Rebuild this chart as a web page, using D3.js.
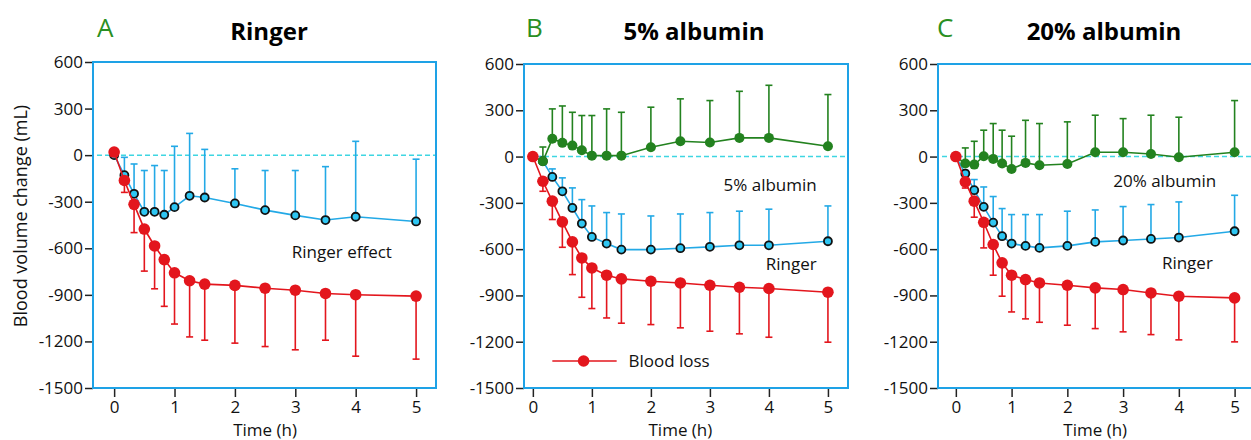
<!DOCTYPE html>
<html>
<head>
<meta charset="utf-8">
<script src="https://cdn.jsdelivr.net/npm/d3@7"></script>
<style>
body{margin:0;background:#fff;}
svg{display:block;}
</style>
</head>
<body>
<div id="chart"></div>
<script>
// time points (h) shared by all panels
const times = [0, 0.17, 0.33, 0.5, 0.67, 0.83, 1, 1.25, 1.5, 2, 2.5, 3, 3.5, 4, 5];
const yTicks = [600, 300, 0, -300, -600, -900, -1200, -1500];
const xTicks = [0, 1, 2, 3, 4, 5];
const panelLetters = ["A", "B", "C"];
const panelTitles = ["Ringer", "5% albumin", "20% albumin"];

// A - Ringer
const lossA    = [20, -163, -317, -476, -585, -673, -758, -809, -831, -839, -857, -870, -891, -899, -908];
const lossSdA  = [0, 77, 182, 271, 276, 301, 330, 362, 361, 372, 376, 384, 301, 396, 406];
const ringerA   = [0, -129, -249, -365, -365, -384, -335, -262, -273, -311, -354, -388, -418, -397, -427];
const ringerSdA = [0, 115, 192, 266, 298, 285, 392, 402, 310, 223, 255, 289, 344, 486, 401];

// B - 5% albumin
const lossB    = [0, -160, -289, -423, -553, -657, -722, -769, -793, -808, -819, -834, -847, -855, -879];
const lossSdB  = [0, 65, 119, 165, 212, 255, 263, 277, 287, 281, 291, 298, 302, 316, 324];
const ringerB   = [0, -30, -132, -225, -333, -434, -521, -564, -603, -603, -594, -585, -575, -575, -549];
const ringerSdB = [0, 30, 52, 87, 130, 155, 201, 201, 231, 218, 222, 222, 221, 234, 229];
const albB   = [0, -30, 115, 89, 71, 41, 6, 6, 6, 60, 99, 91, 121, 121, 67];
const albSdB = [0, 92, 194, 239, 216, 225, 260, 303, 281, 260, 275, 272, 302, 341, 335];

// C - 20% albumin
const lossC    = [0, -164, -289, -426, -570, -689, -769, -797, -819, -834, -851, -862, -884, -905, -916];
const lossSdC  = [0, 40, 104, 166, 199, 216, 238, 255, 255, 259, 264, 274, 270, 283, 285];
const ringerC   = [0, -110, -218, -326, -428, -516, -564, -579, -592, -579, -553, -544, -534, -525, -484];
const ringerSdC = [0, 20, 69, 129, 169, 179, 188, 203, 216, 225, 207, 220, 223, 231, 233];
const albC   = [0, -45, -52, 2, -15, -45, -80, -41, -56, -48, 28, 28, 17, -4, 28];
const albSdC = [0, 101, 151, 169, 229, 216, 212, 276, 270, 273, 240, 218, 251, 259, 335];

let w = 1251;
let h = 440;
let font = "'Open Sans', 'DejaVu Sans', sans-serif";

let red = "#e3161d";
let blue = "#23a9e6";
let blueFill = "#2ec6f2";
let green = "#23821f";
let boxColor = "#1ea2e6";

let viz = d3.select("#chart")
  .append("svg")
  .attr("width", w)
  .attr("height", h)
  .style("background-color", "white");

let panels = [
  {left: 93, right: 436, top: 62, bottom: 388, xDomain: [-0.35, 5.33], titleX: 269, letterX: 97,
   series: [
     {mean: ringerA, sd: ringerSdA, dir: 1, kind: "blue"},
     {mean: lossA, sd: lossSdA, dir: -1, kind: "red"}
   ],
   labels: [{text: "Ringer effect", t: 4.6, v: -663}]
  },
  {left: 524, right: 848, top: 64, bottom: 388, xDomain: [-0.15, 5.34], titleX: 694, letterX: 526,
   series: [
     {mean: ringerB, sd: ringerSdB, dir: 1, kind: "blue"},
     {mean: albB, sd: albSdB, dir: 1, kind: "green"},
     {mean: lossB, sd: lossSdB, dir: -1, kind: "red"}
   ],
   labels: [{text: "5% albumin", t: 4.81, v: -223}, {text: "Ringer", t: 4.81, v: -735}],
   legend: true
  },
  {left: 938, right: 1253, top: 64, bottom: 388, xDomain: [-0.32, 5.33], titleX: 1104, letterX: 937,
   series: [
     {mean: ringerC, sd: ringerSdC, dir: 1, kind: "blue"},
     {mean: albC, sd: albSdC, dir: 1, kind: "green"},
     {mean: lossC, sd: lossSdC, dir: -1, kind: "red"}
   ],
   labels: [{text: "20% albumin", t: 4.67, v: -197}, {text: "Ringer", t: 4.61, v: -730}]
  }
];

let styles = {
  red:   {line: red, fill: red, stroke: "none", r: 5.8, sw: 0},
  blue:  {line: blue, fill: blueFill, stroke: "#111", r: 4, sw: 1.8},
  green: {line: green, fill: green, stroke: "none", r: 5, sw: 0}
};

panels.forEach(function(p, pi){
  let g = viz.append("g");
  let xScale = d3.scaleLinear().domain(p.xDomain).range([p.left, p.right]);
  let yScale = d3.scaleLinear().domain([-1500, 600]).range([p.bottom, p.top]);

  // letter + title
  g.append("text")
    .text(panelLetters[pi])
    .attr("x", p.letterX).attr("y", 37)
    .attr("fill", "#2a8f22")
    .style("font-family", font)
    .attr("font-size", 26);
  g.append("text")
    .text(panelTitles[pi])
    .attr("x", p.titleX).attr("y", 40)
    .attr("text-anchor", "middle")
    .attr("font-weight", "bold")
    .style("font-family", font)
    .attr("font-size", 24);

  // axes
  let yAxis = d3.axisLeft(yScale).tickValues(yTicks).tickSize(8).tickPadding(2).tickFormat(d => String(d));
  let yAxisGroup = g.append("g")
    .attr("transform", "translate(" + p.left + ",0)")
    .call(yAxis);
  let xAxis = d3.axisBottom(xScale).tickValues(xTicks).tickSize(9).tickPadding(4).tickFormat(d => String(d));
  let xAxisGroup = g.append("g")
    .attr("transform", "translate(0," + p.bottom + ")")
    .call(xAxis);
  [yAxisGroup, xAxisGroup].forEach(function(ax){
    ax.select(".domain").remove();
    ax.selectAll("line").attr("stroke", "#222").attr("stroke-width", 1.5);
    ax.selectAll("text").attr("fill", "#111").style("font-family", font).attr("font-size", 17);
  });

  g.append("text")
    .text("Time (h)")
    .attr("x", xScale(2.5)).attr("y", 436)
    .attr("text-anchor", "middle")
    .attr("fill", "#111")
    .style("font-family", font)
    .attr("font-size", 17);

  // zero line
  g.append("line")
    .attr("x1", p.left + 4).attr("x2", p.right)
    .attr("y1", yScale(0)).attr("y2", yScale(0))
    .attr("stroke", "#3fd6e2")
    .attr("stroke-width", 1.5)
    .attr("stroke-dasharray", "5,3");

  // box
  g.append("rect")
    .attr("x", p.left).attr("y", p.top)
    .attr("width", p.right - p.left).attr("height", p.bottom - p.top)
    .attr("fill", "none")
    .attr("stroke", boxColor)
    .attr("stroke-width", 2);

  // series
  p.series.forEach(function(s){
    let st = styles[s.kind];
    let pts = times.map((t, i) => ({t: t, v: s.mean[i], sd: s.sd[i]}));

    let bars = g.append("g").selectAll("g").data(pts.filter(d => d.sd > 0)).enter().append("g");
    bars.append("line")
      .attr("x1", d => xScale(d.t)).attr("x2", d => xScale(d.t))
      .attr("y1", d => yScale(d.v)).attr("y2", d => yScale(d.v + s.dir * d.sd))
      .attr("stroke", st.line).attr("stroke-width", 1.6);
    bars.append("line")
      .attr("x1", d => xScale(d.t) - 3.5).attr("x2", d => xScale(d.t) + 3.5)
      .attr("y1", d => yScale(d.v + s.dir * d.sd)).attr("y2", d => yScale(d.v + s.dir * d.sd))
      .attr("stroke", st.line).attr("stroke-width", 1.6);

    let line = d3.line().x(d => xScale(d.t)).y(d => yScale(d.v));
    g.append("path")
      .datum(pts)
      .attr("d", line)
      .attr("fill", "none")
      .attr("stroke", st.line)
      .attr("stroke-width", 1.6);

    g.append("g").selectAll("circle").data(pts).enter().append("circle")
      .attr("cx", d => xScale(d.t))
      .attr("cy", d => yScale(d.v))
      .attr("r", st.r)
      .attr("fill", st.fill)
      .attr("stroke", st.stroke)
      .attr("stroke-width", st.sw);
  });

  // series labels
  p.labels.forEach(function(l){
    g.append("text")
      .text(l.text)
      .attr("x", xScale(l.t)).attr("y", yScale(l.v))
      .attr("text-anchor", "end")
      .attr("fill", "#111")
      .style("font-family", font)
      .attr("font-size", 17);
  });

  if (p.legend) {
    g.append("line")
      .attr("x1", xScale(0.33)).attr("x2", xScale(1.42))
      .attr("y1", yScale(-1325)).attr("y2", yScale(-1325))
      .attr("stroke", red).attr("stroke-width", 1.6);
    g.append("circle")
      .attr("cx", xScale(0.86)).attr("cy", yScale(-1325))
      .attr("r", 5.8).attr("fill", red);
    g.append("text")
      .text("Blood loss")
      .attr("x", xScale(1.62)).attr("y", yScale(-1364))
      .attr("fill", "#111")
      .style("font-family", font)
      .attr("font-size", 17);
  }
});

// shared y label
viz.append("text")
  .text("Blood volume change (mL)")
  .attr("transform", "translate(27,216) rotate(-90)")
  .attr("text-anchor", "middle")
  .attr("fill", "#111")
  .style("font-family", font)
  .attr("font-size", 18);
</script>
</body>
</html>
